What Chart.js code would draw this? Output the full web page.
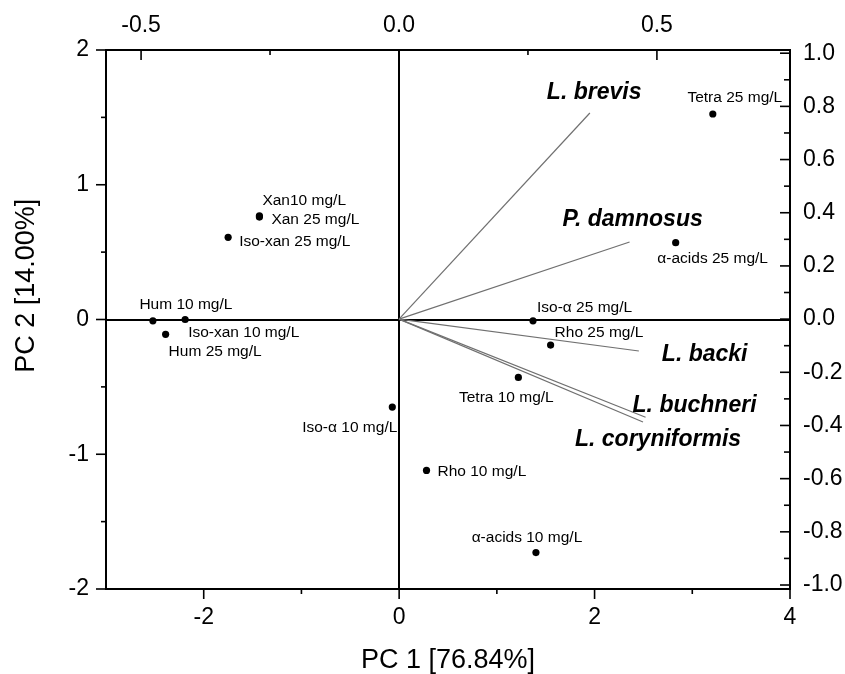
<!DOCTYPE html>
<html>
<head>
<meta charset="utf-8">
<script src="https://cdn.jsdelivr.net/npm/chart.js@4/dist/chart.umd.min.js"></script>
<style>
  html, body { margin: 0; padding: 0; background: #fff; }
  #wrap { width: 845px; height: 674px; }
</style>
</head>
<body>
<div id="wrap"><canvas id="biplot" width="845" height="674"></canvas></div>
<script>
// sample scores (bottom / left axes)
const sampleNames = ['Tetra 25 mg/L', 'α-acids 25 mg/L', 'Xan10 mg/L', 'Xan 25 mg/L', 'Iso-xan 25 mg/L',
  'Hum 10 mg/L', 'Iso-xan 10 mg/L', 'Hum 25 mg/L', 'Iso-α 25 mg/L', 'Rho 25 mg/L',
  'Tetra 10 mg/L', 'Iso-α 10 mg/L', 'Rho 10 mg/L', 'α-acids 10 mg/L'];
const pc1Scores = [3.21, 2.83, -1.43, -1.43, -1.75, -2.52, -2.19, -2.39, 1.37, 1.55, 1.22, -0.07, 0.28, 1.40];
const pc2Scores = [1.525, 0.57, 0.77, 0.76, 0.61, -0.01, 0.0, -0.11, -0.01, -0.19, -0.43, -0.65, -1.12, -1.73];

// species loadings (top / right axes)
const speciesNames = ['L. brevis', 'P. damnosus', 'L. backi', 'L. buchneri', 'L. coryniformis'];
const loading1 = [0.370, 0.447, 0.465, 0.478, 0.473];
const loading2 = [0.775, 0.290, -0.120, -0.369, -0.387];

// tick values
const pc1Ticks = [-2, 0, 2, 4];
const pc1Minor = [-1, 1, 3];
const pc2Ticks = [-2, -1, 0, 1, 2];
const pc2Minor = [-1.5, -0.5, 0.5, 1.5];
const topTicks = [-0.5, 0, 0.5];
const topMinor = [-0.25, 0.25];
const rightTicks = [-1, -0.8, -0.6, -0.4, -0.2, 0, 0.2, 0.4, 0.6, 0.8, 1];
const rightMinor = [-0.9, -0.7, -0.5, -0.3, -0.1, 0.1, 0.3, 0.5, 0.7, 0.9];

// label placement: [dx, dy, align] from the point in pixels
const sampleLabelPos = [
  [22, -16, 'center'], [37, 16, 'center'], [3, -15, 'left'], [12, 3, 'left'], [11, 4, 'left'],
  [33, -16, 'center'], [3, 13, 'left'], [3, 17, 'left'], [4, -13, 'left'], [4, -12, 'left'],
  [-12, 20, 'center'], [5, 21, 'right'], [11, 1, 'left'], [-9, -15, 'center']
];
const speciesLabelPos = [[-43, -20], [-67, -22], [23, 4], [-13, -12], [-68, 18]];

const FONT = "'Liberation Sans', Arial, sans-serif";
Chart.defaults.font.family = FONT;
Chart.defaults.color = '#000';

const loadingSets = speciesNames.map((name, i) => ({
  label: name,
  data: [{ x: 0, y: 0 }, { x: loading1[i], y: loading2[i] }],
  xAxisID: 'x2',
  yAxisID: 'y2',
  showLine: true,
  borderColor: '#707070',
  borderWidth: 1.2,
  pointRadius: 0
}));

const labelPlugin = {
  id: 'biplotLabels',
  afterDatasetsDraw(chart) {
    const { ctx, scales } = chart;
    ctx.save();
    ctx.fillStyle = '#000';
    ctx.textBaseline = 'middle';
    ctx.font = '15.5px ' + FONT;
    sampleNames.forEach((name, i) => {
      const px = scales.x.getPixelForValue(pc1Scores[i]);
      const py = scales.y.getPixelForValue(pc2Scores[i]);
      const [dx, dy, align] = sampleLabelPos[i];
      ctx.textAlign = align;
      ctx.fillText(name, px + dx, py + dy);
    });
    ctx.font = 'italic bold 23px ' + FONT;
    ctx.textAlign = 'left';
    speciesNames.forEach((name, i) => {
      const px = scales.x2.getPixelForValue(loading1[i]);
      const py = scales.y2.getPixelForValue(loading2[i]);
      const [dx, dy] = speciesLabelPos[i];
      ctx.fillText(name, px + dx, py + dy);
    });
    ctx.restore();
  }
};

const tickPlugin = {
  id: 'tickMarks',
  afterDraw(chart) {
    const { ctx, scales, chartArea: a } = chart;
    ctx.save();
    ctx.strokeStyle = '#000';
    ctx.lineWidth = 1.6;
    const mark = (x1, y1, x2, y2) => { ctx.beginPath(); ctx.moveTo(x1, y1); ctx.lineTo(x2, y2); ctx.stroke(); };
    pc1Ticks.forEach(v => { const x = scales.x.getPixelForValue(v); mark(x, a.bottom, x, a.bottom + 10); });
    pc1Minor.forEach(v => { const x = scales.x.getPixelForValue(v); mark(x, a.bottom, x, a.bottom + 5); });
    pc2Ticks.forEach(v => { const y = scales.y.getPixelForValue(v); mark(a.left - 10, y, a.left, y); });
    pc2Minor.forEach(v => { const y = scales.y.getPixelForValue(v); mark(a.left - 5, y, a.left, y); });
    topTicks.forEach(v => { const x = scales.x2.getPixelForValue(v); mark(x, a.top, x, a.top + 10); });
    topMinor.forEach(v => { const x = scales.x2.getPixelForValue(v); mark(x, a.top, x, a.top + 5); });
    rightTicks.forEach(v => { const y = scales.y2.getPixelForValue(v); mark(a.right - 10, y, a.right, y); });
    rightMinor.forEach(v => { const y = scales.y2.getPixelForValue(v); mark(a.right - 6, y, a.right, y); });
    ctx.restore();
  }
};

const zeroLine = ctx => (ctx.tick && ctx.tick.value === 0 ? '#000' : 'rgba(0,0,0,0)');
const setTicks = vals => scale => { scale.ticks = vals.map(v => ({ value: v })); };
const tickFont = { size: 23, lineHeight: 1 };
const border = { display: true, color: '#000', width: 2 };

new Chart(document.getElementById('biplot'), {
  type: 'scatter',
  data: {
    datasets: [
      ...loadingSets,
      {
        label: 'Samples',
        data: pc1Scores.map((v, i) => ({ x: v, y: pc2Scores[i] })),
        xAxisID: 'x',
        yAxisID: 'y',
        pointRadius: 3.6,
        pointBackgroundColor: '#000',
        pointBorderWidth: 0
      }
    ]
  },
  options: {
    responsive: false,
    animation: false,
    layout: { padding: 0 },
    plugins: { legend: { display: false }, tooltip: { enabled: false } },
    scales: {
      x: {
        type: 'linear', position: 'bottom', min: -3, max: 4,
        afterBuildTicks: setTicks(pc1Ticks),
        afterFit: s => { s.height = 85; },
        grid: { color: zeroLine, lineWidth: 2, drawTicks: false },
        border,
        ticks: { font: tickFont, padding: 17.5, maxRotation: 0, callback: v => String(v) },
        title: { display: true, text: 'PC 1 [76.84%]', font: { size: 27, lineHeight: 1 }, padding: { top: 0, bottom: 0 } }
      },
      y: {
        type: 'linear', position: 'left', min: -2, max: 2,
        afterBuildTicks: setTicks(pc2Ticks),
        afterFit: s => { s.width = 106; },
        grid: { color: zeroLine, lineWidth: 2, drawTicks: false },
        border,
        ticks: { font: tickFont, padding: 17, callback: v => String(v) },
        title: { display: true, text: '         PC 2 [14.00%]', font: { size: 27, lineHeight: 1 }, padding: { top: 13.5, bottom: 0 } }
      },
      x2: {
        type: 'linear', position: 'top', min: -0.568, max: 0.758,
        afterBuildTicks: setTicks(topTicks),
        afterFit: s => { s.height = 50; },
        grid: { display: false, drawTicks: false },
        border,
        ticks: { font: tickFont, padding: 12.5, maxRotation: 0, callback: v => v.toFixed(1) }
      },
      y2: {
        type: 'linear', position: 'right', min: -1.015, max: 1.012,
        afterBuildTicks: setTicks(rightTicks),
        afterFit: s => { s.width = 55; },
        grid: { display: false, drawTicks: false },
        border,
        ticks: { font: tickFont, padding: 13, callback: v => v.toFixed(1) }
      }
    }
  },
  plugins: [labelPlugin, tickPlugin]
});
</script>
</body>
</html>
